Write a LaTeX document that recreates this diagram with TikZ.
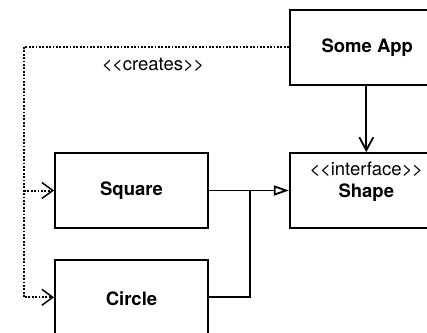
\documentclass[tikz,border=0pt]{standalone}
\usepackage{fontspec}
\setmainfont{TeX Gyre Heros}
\usetikzlibrary{positioning,arrows.meta}

\newcommand{\guil}[1]{<\kern-0.5pt<#1>\kern-0.5pt>}

\tikzset{
  cls/.style={draw=black, line width=1.8pt, minimum width=153pt, minimum height=75pt,
    inner sep=0pt, font=\fontsize{18.5}{22}\selectfont\bfseries},
  creates/.style={line width=2pt, dash pattern=on 1.8pt off 1.6pt,
    -{Straight Barb[length=11pt,width=16pt,line width=1.5pt]}},
  uses/.style={line width=1.8pt, -{Straight Barb[length=13pt,width=14pt]}},
  realizes/.style={line width=1.8pt, -{Triangle[open,length=15pt,width=10pt]}}
}

\begin{document}
\begin{tikzpicture}[x=1pt, y=-1pt, font=\fontsize{18.5}{22}\selectfont]
    \useasboundingbox (0,0) rectangle (427,332);
    % class boxes
    \node[cls] (square) at (131.5,190.5) {Square};
    \node[cls, below=30pt of square] (circle) {};
    \node[anchor=center] (circletxt) at ([yshift=-1pt]circle.center) {\bfseries Circle};
    \node[cls, right=80pt of square] (shape) {};
    \node[anchor=north, align=center, inner sep=0pt] (shapetxt) at ([yshift=-10pt]shape.north)
        {\guil{interface}\\[0pt]\textbf{Shape}};
    \node[cls, above=66pt of shape] (app) {};
    \node (apptxt) at ([xshift=1pt]app.center) {\bfseries Some App};

    % dotted creation links
    \coordinate (corner) at ([xshift=-265pt,yshift=1pt]app.west);
    \draw[creates] ([yshift=1pt]app.west) -- (corner) |- (circle.west);
    \draw[creates] (corner |- square.west) -- (square.west);
    \node (createslbl) at (153,65) {\guil{creates}};

    % app uses shape
    \draw[uses] (app.south) -- (shape.north);

    % realization of the interface
    \coordinate (join) at (250,0);
    \draw[realizes] (square.east) -- (shape.west);
    \draw[line width=1.8pt] (circle.east) -- (join |- circle.east) -- (join |- square.east);
\end{tikzpicture}
\end{document}
